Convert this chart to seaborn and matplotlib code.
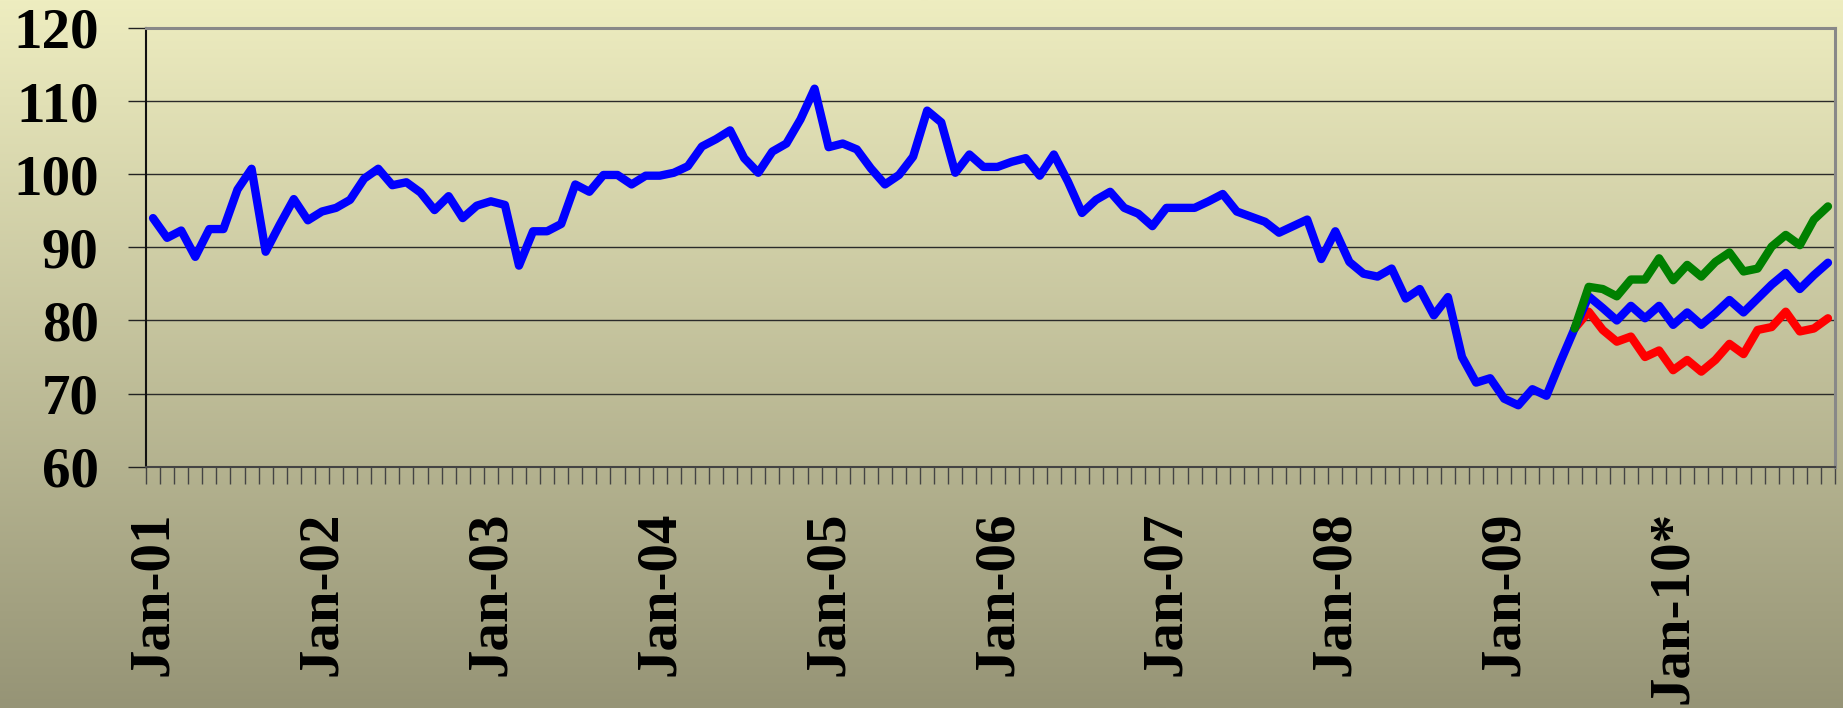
import numpy as np
import pandas as pd
import seaborn as sns
import matplotlib.pyplot as plt

# monthly index, Jan-01 .. Dec-10
blue = [94.0, 91.3, 92.3, 88.7, 92.5, 92.5, 97.9, 100.75, 89.4, 93.1, 96.6, 93.7,
        94.9, 95.4, 96.5, 99.4, 100.75, 98.5, 98.9, 97.5, 95.1, 97.0, 94.0, 95.7,
        96.3, 95.8, 87.5, 92.2, 92.2, 93.2, 98.6, 97.6, 99.9, 99.9, 98.6, 99.8,
        99.8, 100.2, 101.1, 103.8, 104.8, 106.0, 102.2, 100.2, 103.1, 104.2, 107.5, 111.7,
        103.7, 104.2, 103.4, 100.8, 98.6, 99.9, 102.4, 108.7, 107.1, 100.2, 102.7, 101.0,
        101.0, 101.7, 102.2, 99.8, 102.7, 99.0, 94.7, 96.5, 97.6, 95.4, 94.6, 92.9,
        95.4, 95.4, 95.4, 96.3, 97.3, 94.9, 94.2, 93.5, 92.0, 92.9, 93.8, 88.4,
        92.2, 88.0, 86.4, 86.0, 87.1, 83.0, 84.3, 80.7, 83.2, 75.0, 71.5, 72.1,
        69.3, 68.4, 70.6, 69.7, 74.4, 78.9, 83.3, 81.7, 80.0, 82.0, 80.3, 82.0,
        79.4, 81.1, 79.4, 81.0, 82.8, 81.1, 83.0, 84.9, 86.5, 84.3, 86.2, 87.9]

# scenarios start at month 101 (Jun-09)
scen_start = 101
green = [78.9, 84.6, 84.3, 83.3, 85.6, 85.6, 88.5, 85.5, 87.6, 86.0, 88.0, 89.3,
         86.7, 87.1, 90.1, 91.7, 90.3, 93.8, 95.6]
red = [78.9, 81.2, 78.7, 77.1, 77.8, 75.0, 75.9, 73.2, 74.6, 73.0, 74.6, 76.8,
       75.4, 78.7, 79.1, 81.2, 78.5, 78.9, 80.3]

year_labels = ["Jan-01", "Jan-02", "Jan-03", "Jan-04", "Jan-05",
               "Jan-06", "Jan-07", "Jan-08", "Jan-09", "Jan-10*"]

months = np.arange(len(blue))
scen_months = np.arange(scen_start, scen_start + len(green))

plt.rcParams['font.family'] = ['Liberation Serif', 'DejaVu Serif']
plt.rcParams['font.weight'] = 'bold'

fig = plt.figure(figsize=(18.43, 7.08), dpi=100)

# background gradient over the whole figure
bg = fig.add_axes([0, 0, 1, 1], zorder=-10)
top = np.array([238, 237, 192]) / 255
bot = np.array([150, 148, 118]) / 255
t = np.linspace(0, 1, 256)[:, None]
grad = top * (1 - t) + bot * t
bg.imshow(grad[:, None, :], aspect='auto', extent=[0, 1, 0, 1])
bg.axis('off')

ax = fig.add_axes([146 / 1843, 1 - 466.7 / 708, (1835 - 146) / 1843, (466.7 - 28) / 708])
ax.patch.set_alpha(0)

line_kw = dict(lw=6, solid_joinstyle='round', solid_capstyle='round')
sns.lineplot(x=scen_months, y=red, ax=ax, color='#ff0000', **line_kw)
sns.lineplot(x=months, y=blue, ax=ax, color='#0000ff', **line_kw)
sns.lineplot(x=scen_months, y=green, ax=ax, color='#008000', **line_kw)

ax.set_xlim(-0.5, len(blue) - 0.5)
ax.set_ylim(60, 120)
ax.set_yticks(np.arange(60, 121, 10))
ax.yaxis.grid(True, color='#2a2a2a', lw=1.0)
ax.set_axisbelow(True)

# month boundary ticks (major, no labels), year labels on minor ticks
ax.set_xticks(np.arange(-0.5, len(blue), 1))
ax.set_xticklabels([])
ax.set_xticks(np.arange(0, len(blue), 12), minor=True)
ax.set_xticklabels(year_labels, minor=True, rotation=90, fontsize=41,
                   fontweight='bold', va='top', ha='center')
ax.tick_params(axis='x', which='major', length=12, width=1.0, color='#444444', direction='out')
ax.tick_params(axis='x', which='minor', length=0, pad=32)
ax.tick_params(axis='y', length=13, width=1.0, color='#222222', pad=21, labelsize=41)
for lab in ax.get_yticklabels():
    lab.set_fontweight('bold')
ax.set_xlabel("")
ax.set_ylabel("")

ax.spines['left'].set_color('#111111')
ax.spines['left'].set_linewidth(1.5)
ax.spines['bottom'].set_color('#444444')
ax.spines['bottom'].set_linewidth(1.5)
ax.spines['top'].set_color('#888888')
ax.spines['top'].set_linewidth(2.2)
ax.spines['right'].set_color('#888888')
ax.spines['right'].set_linewidth(2.2)

fig.savefig("out.png", dpi=100)
